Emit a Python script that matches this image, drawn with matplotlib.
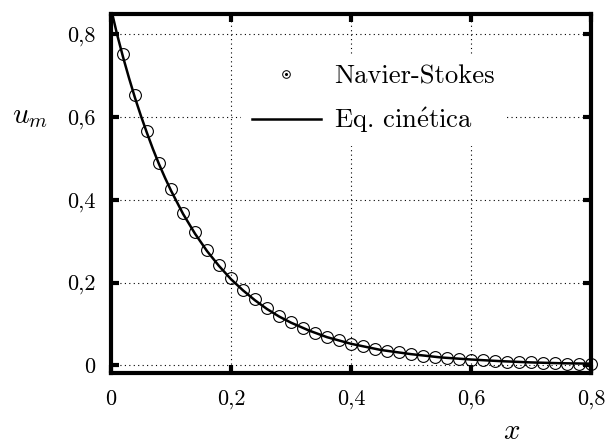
import matplotlib
matplotlib.use("Agg")
import matplotlib.pyplot as plt
from matplotlib.lines import Line2D
from matplotlib.legend_handler import HandlerTuple

plt.rcParams['font.family'] = ['cmr10', 'DejaVu Serif']
plt.rcParams['mathtext.fontset'] = 'cm'
plt.rcParams['axes.unicode_minus'] = False

# Navier-Stokes points
ns_x = [0.02, 0.04, 0.06, 0.08, 0.10, 0.12, 0.14, 0.16, 0.18, 0.20,
        0.22, 0.24, 0.26, 0.28, 0.30, 0.32, 0.34, 0.36, 0.38, 0.40,
        0.42, 0.44, 0.46, 0.48, 0.50, 0.52, 0.54, 0.56, 0.58, 0.60,
        0.62, 0.64, 0.66, 0.68, 0.70, 0.72, 0.74, 0.76, 0.78, 0.80]
ns_u = [0.752, 0.653, 0.567, 0.490, 0.426, 0.369, 0.321, 0.278, 0.242, 0.210,
        0.183, 0.160, 0.139, 0.119, 0.105, 0.090, 0.079, 0.068, 0.060, 0.051,
        0.046, 0.040, 0.035, 0.031, 0.027, 0.023, 0.020, 0.018, 0.015, 0.013,
        0.012, 0.010, 0.009, 0.008, 0.007, 0.006, 0.005, 0.004, 0.004, 0.003]

# kinetic equation curve
kin_x = [0.0, 0.01, 0.02, 0.03, 0.04, 0.05, 0.06, 0.07, 0.08, 0.09, 0.10,
         0.12, 0.14, 0.16, 0.18, 0.20, 0.22, 0.24, 0.26, 0.28, 0.30,
         0.33, 0.36, 0.40, 0.45, 0.50, 0.55, 0.60, 0.65, 0.70, 0.75, 0.80]
kin_u = [0.862, 0.800, 0.745, 0.694, 0.646, 0.602, 0.561, 0.522, 0.486, 0.453, 0.422,
         0.366, 0.318, 0.276, 0.240, 0.208, 0.181, 0.157, 0.136, 0.118, 0.103,
         0.084, 0.068, 0.052, 0.037, 0.027, 0.019, 0.014, 0.010, 0.007, 0.005, 0.004]

ticks = [0, 0.2, 0.4, 0.6, 0.8]
tick_labels = ['0', '0,2', '0,4', '0,6', '0,8']

fig = plt.figure(figsize=(6.1, 4.48), dpi=100)
ax = fig.add_axes([0.182, 0.167, 0.787, 0.801])

ax.plot(kin_x, kin_u, color='black', lw=1.8, zorder=3)
ax.plot(ns_x, ns_u, linestyle='none', marker='o', ms=8.5, mfc='none',
        mec='black', mew=0.8, zorder=4, clip_on=False)

ax.set_xlim(0, 0.8)
ax.set_ylim(-0.019, 0.848)
ax.set_xticks(ticks)
ax.set_xticklabels(tick_labels)
ax.set_yticks(ticks)
ax.set_yticklabels(tick_labels)
ax.tick_params(direction='in', length=6, width=3, labelsize=16, pad=12,
               top=True, right=True)
ax.tick_params(axis='y', pad=11)
for s in ax.spines.values():
    s.set_linewidth(3)
ax.grid(True, color='black', linestyle=(0, (1, 3)), linewidth=0.8)
ax.set_axisbelow(True)

# axis titles placed like the original
fig.text(30 / 610, 1 - 117 / 448, r'$u_m$', fontsize=21, ha='center', va='center')
fig.text(512 / 610, 1 - 432 / 448, r'$x$', fontsize=21, ha='center', va='center')

h_ns = (Line2D([], [], ls='none', marker='o', ms=5.5, mfc='none', mec='black', mew=0.7),
        Line2D([], [], ls='none', marker='o', ms=1.2, mfc='black', mec='black'))
h_kin = Line2D([], [], color='black', lw=1.8)
leg = ax.legend([h_ns, h_kin], ['Navier-Stokes', r'Eq. cin$\mathrm{\acute{e}}$tica'],
                handler_map={tuple: HandlerTuple(ndivide=1)},
                loc='upper left', bbox_to_anchor=(0.271, 0.89),
                frameon=True, fancybox=False, edgecolor='none', framealpha=1,
                fontsize=19.2, handlelength=2.6, handletextpad=0.5,
                labelspacing=0.65, borderpad=0.4, borderaxespad=0)
leg.set_zorder(2)

fig.savefig('out.png', dpi=100)
